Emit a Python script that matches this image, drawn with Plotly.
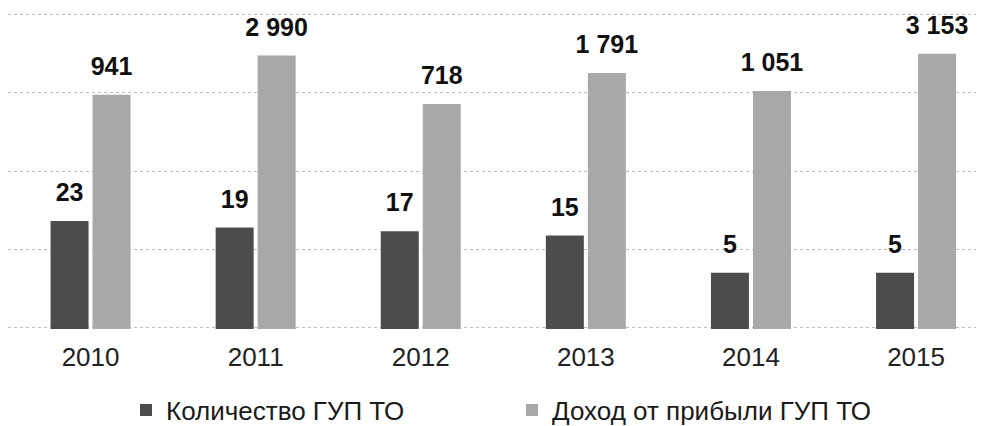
import numpy as np
import plotly.graph_objects as go

years = ["2010", "2011", "2012", "2013", "2014", "2015"]
count_gup = [23, 19, 17, 15, 5, 5]
income_gup = [941, 2990, 718, 1791, 1051, 3153]
count_labels = ["23", "19", "17", "15", "5", "5"]
income_labels = ["941", "2 990", "718", "1 791", "1 051", "3 153"]
series_names = ["Количество ГУП ТО", "Доход от прибыли ГУП ТО"]

FONT = "Liberation Sans, Arial, sans-serif"
DARK = "#4c4c4c"
LIGHT = "#a8a8a8"
PX_PER_CAT = 165.1
BAR_W = 38 / PX_PER_CAT
GAP = 4 / PX_PER_CAT
FIG_W, FIG_H = 976, 418   # page body adds an 8px margin
L, T, B = 0, 5, 97
PLOT_W, PLOT_H = FIG_W - L, FIG_H - T - B

xpos = np.arange(len(years))
dark_off = -(BAR_W + GAP / 2)
light_off = GAP / 2

fig = go.Figure()
fig.add_trace(go.Bar(
    x=xpos, y=count_gup, name=series_names[0],
    marker=dict(color=DARK, line=dict(width=0)),
    width=BAR_W, offset=dark_off,
))
fig.add_trace(go.Bar(
    x=xpos, y=income_gup, name=series_names[1],
    marker=dict(color=LIGHT, line=dict(width=0)),
    width=BAR_W, offset=light_off,
))
# value labels above bars
for vals, labels, off in ((count_gup, count_labels, dark_off),
                          (income_gup, income_labels, light_off)):
    fig.add_trace(go.Scatter(
        x=xpos + off + BAR_W / 2, y=vals, text=labels,
        mode="markers+text", textposition="top center",
        marker=dict(size=20, color="rgba(0,0,0,0)"),
        textfont=dict(family=FONT, size=25, color="#111", weight="bold"),
        showlegend=False, hoverinfo="skip", cliponaxis=False,
    ))

fig.update_layout(
    width=FIG_W, height=FIG_H,
    margin=dict(l=L, r=0, t=T, b=B, autoexpand=False),
    paper_bgcolor="white", plot_bgcolor="white",
    font=dict(family=FONT, color="#222"),
    showlegend=True,
    legend=dict(orientation="h",
                x=118 / PLOT_W, xanchor="left",
                y=(321 - 402) / PLOT_H, yanchor="middle",
                entrywidth=341, entrywidthmode="pixels",
                font=dict(family=FONT, size=26, color="#1a1a1a"),
                bgcolor="rgba(0,0,0,0)", borderwidth=0),
    xaxis=dict(
        range=[-0.5, -0.5 + PLOT_W / PX_PER_CAT],
        tickvals=xpos, ticktext=years,
        showgrid=False, showline=False, zeroline=False,
        ticks="outside", ticklen=5, tickcolor="rgba(0,0,0,0)",
        tickfont=dict(family=FONT, size=26, color="#222"),
    ),
    yaxis=dict(
        type="log", range=[-0.02, 4.02], dtick=1,
        showticklabels=False, showline=False, zeroline=False,
        showgrid=True, gridcolor="#bdbdbd", gridwidth=1, griddash="dot",
    ),
)

fig.write_html("out.html")
